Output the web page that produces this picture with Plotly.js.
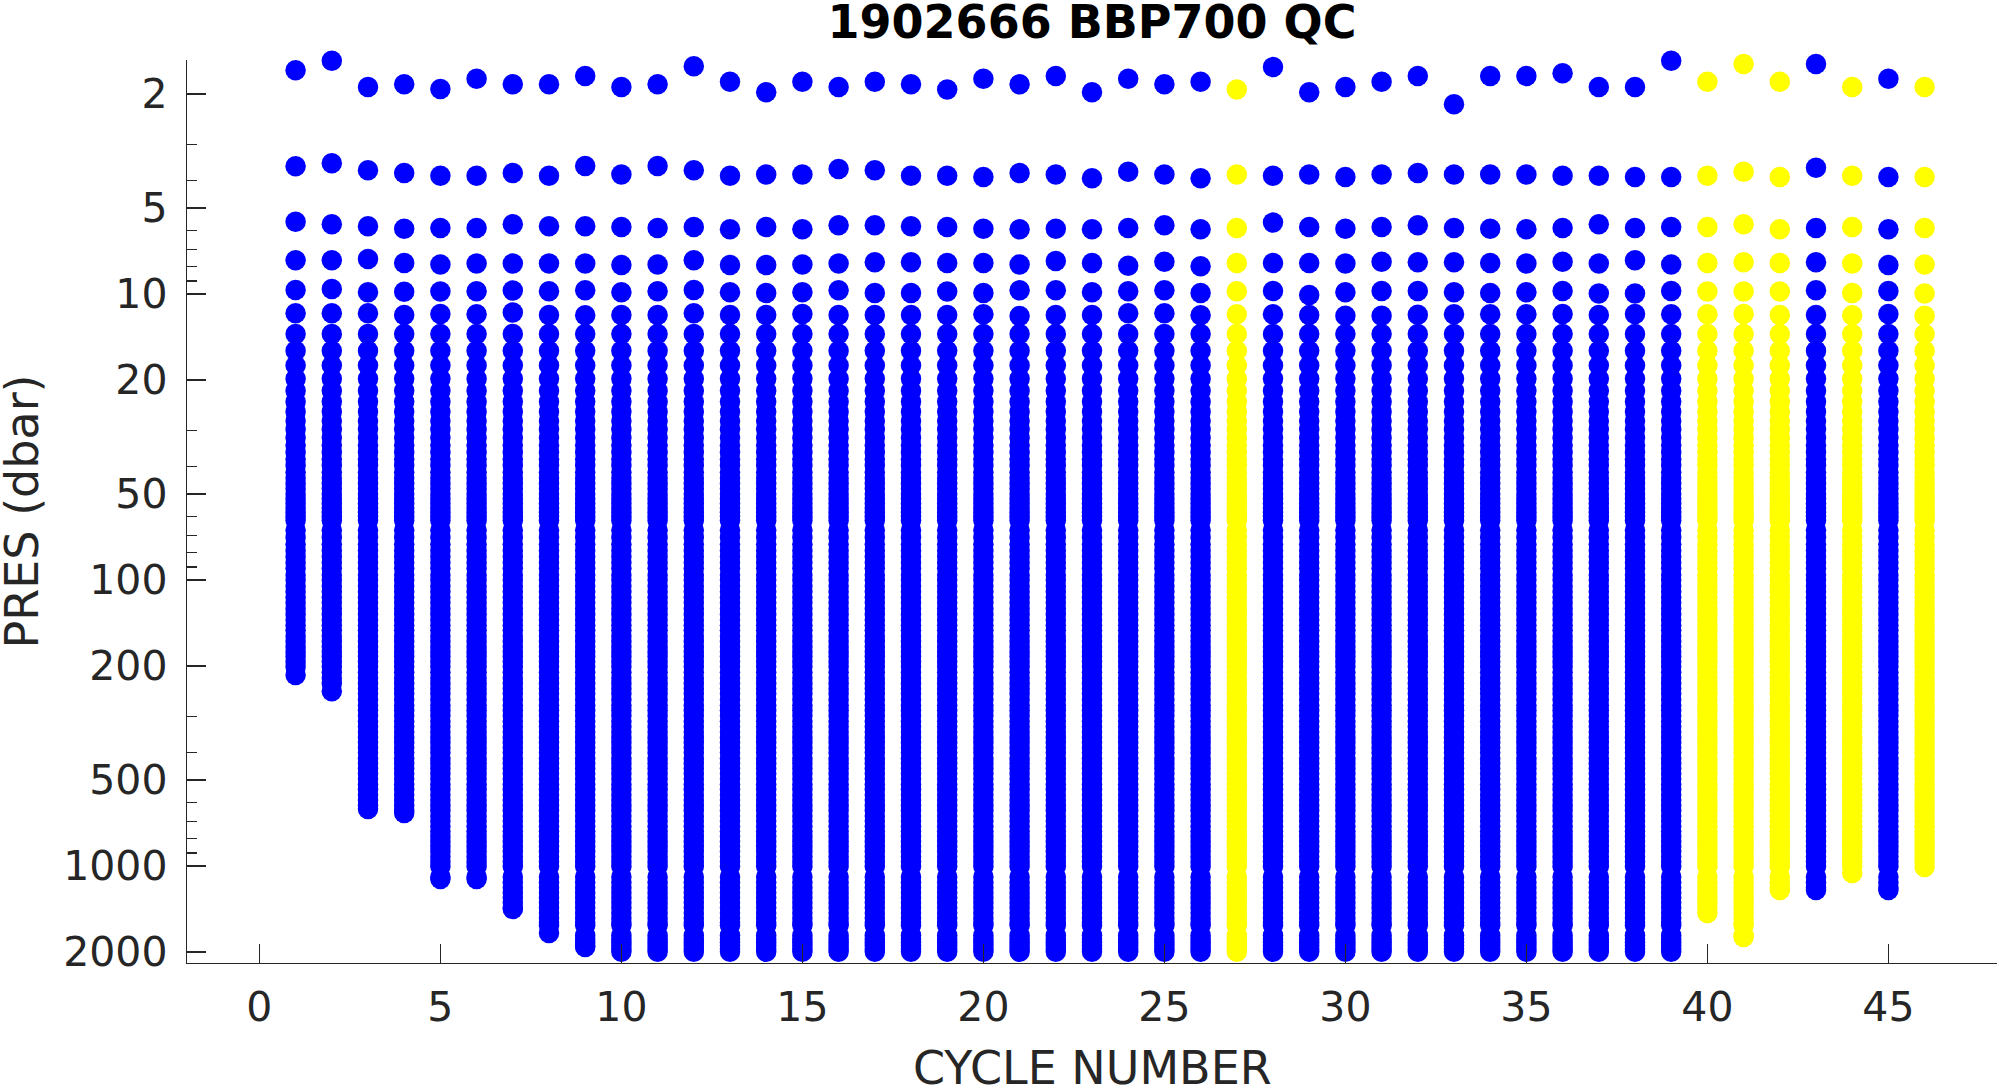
<!DOCTYPE html>
<html>
<head>
<meta charset="utf-8">
<script src="https://cdn.plot.ly/plotly-3.0.1.min.js"></script>
<style>
  html, body { margin: 0; padding: 0; background: #ffffff; }
  #chart { width: 1999px; height: 1088px; }
</style>
</head>
<body>
<div id="chart"></div>
<script>
// ---------------- DATA ----------------
const cycleNumber = [1,2,3,4,5,6,7,8,9,10,11,12,13,14,15,16,17,18,19,20,21,22,23,
                     24,25,26,27,28,29,30,31,32,33,34,35,36,37,38,39,40,41,42,43,44,45,46];

// QC flag of each profile: 1 -> blue, 3 -> yellow
const qcFlag = [1,1,1,1,1,1,1,1,1,1,1,1,1,1,1,1,1,1,1,1,1,1,1,
                1,1,1,3,1,1,1,1,1,1,1,1,1,1,1,1,3,3,3,1,3,1,3];

// deepest pressure of each profile (dbar)
const maxPres = [215,245,632,653,1110,1110,1413,1714,1918,1995,1995,1995,1995,1995,1995,1995,1995,1995,1995,1995,1995,1995,1995,
                 1995,1995,1995,1995,1995,1995,1995,1995,1995,1995,1995,1995,1995,1995,1995,1995,1459,1771,1213,1213,1058,1213,1008];

// first six (shallow) samples of each profile (dbar)
const presLevel1 = [1.65,1.53,1.89,1.85,1.92,1.77,1.85,1.85,1.73,1.89,1.85,1.60,1.81,1.97,1.81,1.89,1.81,1.85,1.93,1.77,1.85,1.73,1.97,
                    1.77,1.85,1.81,1.93,1.61,1.97,1.89,1.81,1.73,2.17,1.73,1.73,1.69,1.89,1.89,1.53,1.81,1.57,1.81,1.57,1.89,1.77,1.89];
const presLevel2 = [3.58,3.49,3.69,3.78,3.86,3.86,3.78,3.86,3.57,3.82,3.57,3.69,3.86,3.82,3.82,3.66,3.69,3.86,3.86,3.90,3.78,3.82,3.94,
                    3.74,3.82,3.94,3.82,3.86,3.82,3.90,3.82,3.78,3.82,3.82,3.82,3.86,3.86,3.90,3.90,3.86,3.74,3.90,3.62,3.86,3.90,3.90];
const presLevel3 = [5.59,5.71,5.80,5.91,5.88,5.88,5.71,5.80,5.80,5.83,5.88,5.83,5.94,5.83,5.94,5.75,5.75,5.80,5.83,5.91,5.94,5.91,5.94,
                    5.88,5.75,5.94,5.88,5.63,5.83,5.91,5.83,5.75,5.88,5.91,5.94,5.88,5.71,5.88,5.83,5.83,5.71,5.94,5.88,5.83,5.94,5.88];
const presLevel4 = [7.63,7.63,7.54,7.79,7.88,7.83,7.83,7.83,7.83,7.92,7.88,7.63,7.92,7.92,7.88,7.83,7.75,7.75,7.79,7.79,7.88,7.67,7.79,
                    7.96,7.71,8.00,7.79,7.79,7.79,7.83,7.71,7.75,7.75,7.79,7.83,7.71,7.83,7.63,7.88,7.79,7.75,7.79,7.75,7.83,7.92,7.88];
const presLevel5 = [9.68,9.61,9.87,9.83,9.81,9.78,9.73,9.78,9.71,9.87,9.78,9.68,9.87,9.92,9.87,9.71,9.92,9.92,9.81,9.92,9.71,9.71,9.87,
                    9.78,9.71,9.92,9.78,9.76,10.08,9.87,9.76,9.76,9.87,9.92,9.87,9.76,9.97,9.97,9.76,9.81,9.81,9.81,9.71,9.92,9.76,9.97];
const presLevel6 = [11.68,11.68,11.68,11.84,11.75,11.78,11.62,11.84,11.88,11.84,11.84,11.68,11.84,11.84,11.75,11.84,11.84,11.84,11.84,11.78,11.94,11.84,11.84,
                    11.68,11.68,11.88,11.78,11.78,11.84,11.91,11.91,11.81,11.78,11.78,11.78,11.75,11.84,11.75,11.78,11.78,11.75,11.84,11.84,11.88,11.75,11.91];

// deeper sampling levels shared by the profiles (dbar)
const deepLevels = [13.8,15.8,17.8,19.8,21.8,23.8,25.8,27.8,29.8,31.8,33.8,35.8,37.8,39.8,42,44,46,48,50,52,54,56,58,60,62,
                    67,71,75,79,83,87,91,96,100,105,110,115,120,126,132,138,144,150,157,164,171,178,185,193,201,210,220,230,240,250,
                    262,274,286,298,312,326,340,355,370,386,402,420,438,456,476,496,518,540,564,588,614,640,668,696,726,756,788,820,
                    854,890,928,966,1004,1092,1140,1190,1240,1290,1345,1400,1460,1520,1580,1610,1750,1800,1850,1900,1950];

const yTickVals = [2,5,10,20,50,100,200,500,1000,2000];
const yMinorTickVals = [3,4,6,7,8,9,30,40,60,70,80,90,300,400,600,700,800,900];
const xTickVals = [0,5,10,15,20,25,30,35,40,45];

const flagColor = {1: '#0000FF', 3: '#FFFF00'};

// ---------------- BUILD TRACES ----------------
const groups = {};
cycleNumber.forEach(function (c, i) {
  const f = qcFlag[i];
  if (!groups[f]) groups[f] = {x: [], y: []};
  const prof = [presLevel1[i], presLevel2[i], presLevel3[i], presLevel4[i], presLevel5[i], presLevel6[i]];
  deepLevels.forEach(function (p) { if (p < maxPres[i] - 5) prof.push(p); });
  prof.push(maxPres[i]);
  prof.forEach(function (p) { groups[f].x.push(c); groups[f].y.push(p); });
});

const traces = Object.keys(groups).map(function (f) {
  return {
    type: 'scatter',
    mode: 'markers',
    x: groups[f].x,
    y: groups[f].y,
    cliponaxis: false,
    hoverinfo: 'x+y',
    marker: {size: 20.5, color: flagColor[f], line: {width: 0}},
    showlegend: false
  };
});

const axisColor = '#262626';
const layout = {
  width: 1999,
  height: 1088,
  paper_bgcolor: '#ffffff',
  plot_bgcolor: '#ffffff',
  margin: {l: 187, r: 2, t: 60, b: 125},
  showlegend: false,
  title: {
    text: '1902666 BBP700 QC',
    font: {family: 'DejaVu Sans', size: 46, color: '#000000', weight: 'bold'},
    x: 0.5, xref: 'paper', xanchor: 'center',
    y: 0.98, yref: 'container', yanchor: 'middle'
  },
  xaxis: {
    range: [-2, 48],
    tickmode: 'array',
    tickvals: xTickVals,
    ticktext: xTickVals.map(String),
    ticks: 'inside',
    ticklen: 19,
    tickwidth: 1.3,
    tickcolor: axisColor,
    showline: true,
    linecolor: axisColor,
    linewidth: 1.3,
    mirror: false,
    showgrid: false,
    zeroline: false,
    ticklabelstandoff: 7,
    tickfont: {family: 'DejaVu Sans', size: 41, color: axisColor}
  },
  yaxis: {
    type: 'log',
    autorange: false,
    range: [3.339, 0.182],
    tickmode: 'array',
    tickvals: yTickVals,
    ticktext: yTickVals.map(String),
    ticks: 'inside',
    ticklen: 19,
    tickwidth: 1.3,
    tickcolor: axisColor,
    minor: {tickmode: 'array', tickvals: yMinorTickVals, ticks: 'inside', ticklen: 10, tickwidth: 1.3, tickcolor: axisColor, showgrid: false},
    showline: true,
    linecolor: axisColor,
    linewidth: 1.3,
    mirror: false,
    showgrid: false,
    zeroline: false,
    ticklabelstandoff: 10,
    tickfont: {family: 'DejaVu Sans', size: 41, color: axisColor}
  },
  annotations: [
    {
      text: 'CYCLE NUMBER', xref: 'paper', yref: 'paper', x: 0.5, y: -0.1163,
      xanchor: 'center', yanchor: 'middle', showarrow: false,
      font: {family: 'DejaVu Sans', size: 46, color: axisColor}
    },
    {
      text: 'PRES (dbar)', xref: 'paper', yref: 'paper', x: -0.0912, y: 0.5,
      xanchor: 'center', yanchor: 'middle', textangle: -90, showarrow: false,
      font: {family: 'DejaVu Sans', size: 46, color: axisColor}
    }
  ]
};

Plotly.newPlot('chart', traces, layout, {displayModeBar: false, staticPlot: true});
</script>
</body>
</html>
